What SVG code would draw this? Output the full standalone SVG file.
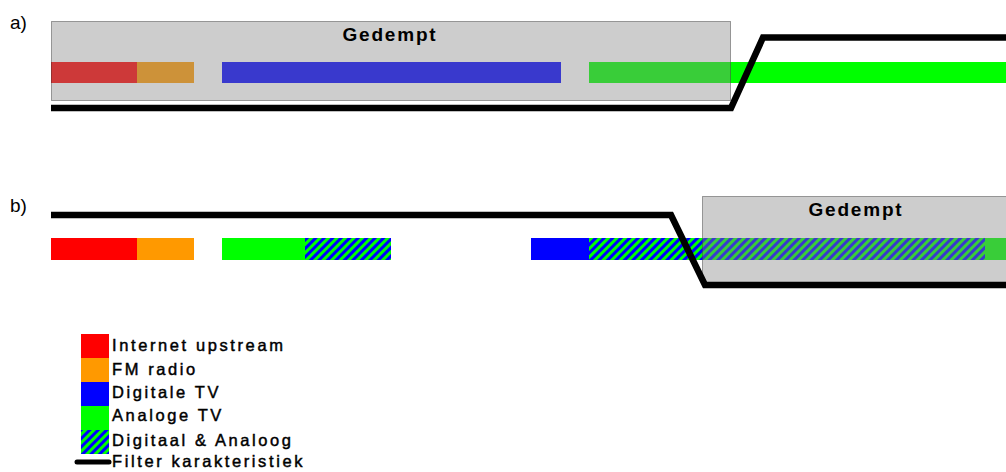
<svg xmlns="http://www.w3.org/2000/svg" width="1006" height="472" viewBox="0 0 1006 472">
<defs>
<pattern id="hatch" x="0" y="0" width="6" height="6" patternUnits="userSpaceOnUse" patternTransform="rotate(45)">
<rect x="0" y="0" width="6" height="6" fill="#00ff00"/>
<rect x="0" y="0" width="3" height="6" fill="#0000ff"/>
</pattern>
<style>
.lbl{font-family:"Liberation Sans",Arial,sans-serif;font-size:19px;fill:#000}
.ged{font-family:"Liberation Sans",Arial,sans-serif;font-size:19px;font-weight:bold;letter-spacing:1.8px;fill:#000;text-anchor:middle}
.leg{font-family:"Liberation Sans",Arial,sans-serif;font-size:16.5px;letter-spacing:2.6px;fill:#000;stroke:#000;stroke-width:0.45px}
.box{fill:#888888;fill-opacity:0.42;stroke:#444;stroke-width:1;stroke-dasharray:1 1}
.filter{fill:none;stroke:#000;stroke-width:6.5;stroke-linejoin:miter}
</style>
</defs>
<rect width="1006" height="472" fill="#ffffff"/>

<text class="lbl" x="10" y="29">a)</text>
<text class="lbl" x="10" y="212">b)</text>

<g id="panel-a">
<g id="a-bars">
<rect x="51" y="62" width="86" height="21" fill="#ff0000"/>
<rect x="137" y="62" width="57" height="21" fill="#ff9900"/>
<rect x="222" y="62" width="339" height="21" fill="#0000ff"/>
<rect x="589" y="62" width="417" height="21" fill="#00ff00"/>
</g>
<g id="a-gedempt">
<rect class="box" x="51.5" y="21.5" width="679" height="79"/>
<text class="ged" x="390" y="41">Gedempt</text>
</g>
</g>

<g id="panel-b">
<g id="b-bars">
<rect x="51" y="238" width="86" height="22" fill="#ff0000"/>
<rect x="137" y="238" width="57" height="22" fill="#ff9900"/>
<rect x="222" y="238" width="83" height="22" fill="#00ff00"/>
<rect x="305" y="238" width="86" height="22" fill="url(#hatch)"/>
<rect x="531" y="238" width="58" height="22" fill="#0000ff"/>
<rect x="589" y="238" width="396" height="22" fill="url(#hatch)"/>
<rect x="985" y="238" width="21" height="22" fill="#00ff00"/>
</g>
<g id="b-gedempt">
<rect class="box" x="702.5" y="196.5" width="310" height="88"/>
<text class="ged" x="856" y="216">Gedempt</text>
</g>
</g>

<g id="connectors">
<polyline class="filter" points="51,108 731,108 763,37.5 1006,37.5"/>
<polyline class="filter" points="51,215 671,215 705,285 1006,285"/>
</g>

<g id="legend">
<rect x="81" y="334" width="28" height="24" fill="#ff0000"/>
<rect x="81" y="358" width="28" height="24" fill="#ff9900"/>
<rect x="81" y="382" width="28" height="24" fill="#0000ff"/>
<rect x="81" y="406" width="28" height="24" fill="#00ff00"/>
<rect x="81" y="430" width="28" height="24" fill="url(#hatch)"/>
<line x1="77" y1="462" x2="109" y2="462" stroke="#000" stroke-width="5" stroke-linecap="round"/>
<text class="leg" x="112" y="351">Internet upstream</text>
<text class="leg" x="112" y="375">FM radio</text>
<text class="leg" x="112" y="398">Digitale TV</text>
<text class="leg" x="112" y="421">Analoge TV</text>
<text class="leg" x="112" y="446">Digitaal &amp; Analoog</text>
<text class="leg" x="112" y="467">Filter karakteristiek</text>
</g>
</svg>
